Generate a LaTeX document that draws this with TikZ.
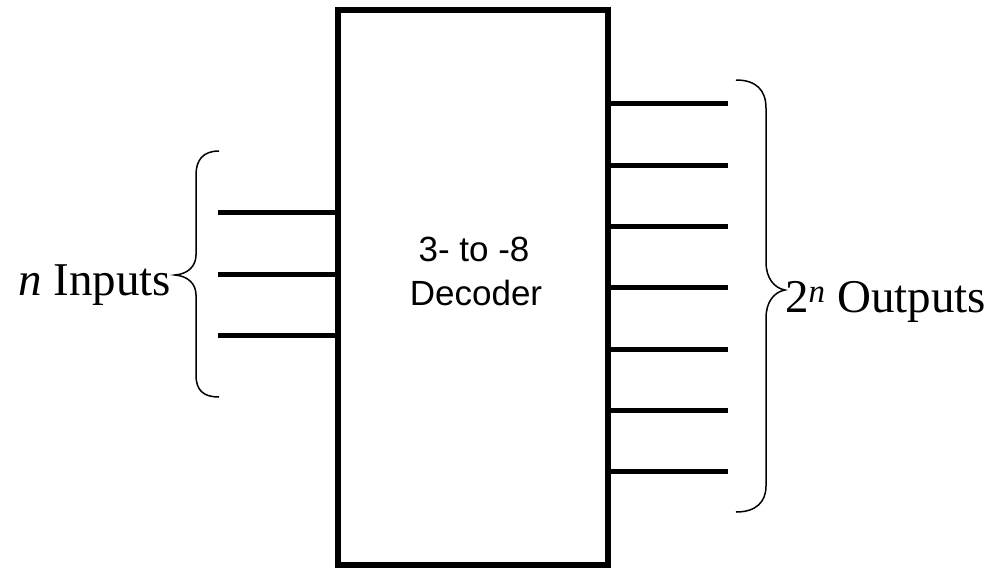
\documentclass[tikz,border=0pt]{standalone}
\usepackage{fontspec}
\setmainfont{Liberation Serif}
\newfontfamily\arialfont{Liberation Sans}
\begin{document}
\begin{tikzpicture}[x=1pt,y=-1pt,
  boxstyle/.style={draw,line width=6pt,minimum width=269.5pt,minimum height=555.5pt,inner sep=0pt},
  wire/.style={line width=5pt},
  bracestyle/.style={line width=1.5pt},
  lbl/.style={font=\fontsize{47}{50}\selectfont,inner sep=0pt,anchor=base west},
  boxtext/.style={font=\arialfont\fontsize{35}{40}\selectfont,inner sep=0pt,anchor=base}]
\useasboundingbox (0,0) rectangle (999,568);
\node[boxstyle] (dec) at (473,287.5) {};
\node[boxtext] (t1) at (474,261) {3- to -8};
\node[boxtext] (t2) at (476,305) {Decoder};
% inputs
\foreach \i/\y in {1/212.5,2/274,3/335}{
  \coordinate (in\i) at (218,\y);
  \draw[wire] (in\i) -- (in\i -| dec.west);
}
% outputs
\foreach \i/\y in {1/103.3,2/165,3/226,4/287.7,5/349.3,6/410.5,7/471.7}{
  \coordinate (out\i) at (728,\y);
  \draw[wire] (out\i -| dec.east) -- (out\i);
}
% left brace
\coordinate (lb1) at (219,151);
\coordinate (lbt) at (175,275);
\coordinate (lb2) at (219,397);
\draw[bracestyle] (lb1) .. controls (203,151) and (196,160) .. (196,175)
  -- (196,255) .. controls (196,266) and (188,274) .. (lbt)
  .. controls (188,276) and (196,284) .. (196,295)
  -- (196,375) .. controls (196,390) and (203,397) .. (lb2);
% right brace
\coordinate (rb1) at (736,80);
\coordinate (rbt) at (785,290);
\coordinate (rb2) at (736,512);
\draw[bracestyle] (rb1) .. controls (756,80) and (766,90) .. (766,108)
  -- (766,262) .. controls (766,278) and (774,288) .. (rbt)
  .. controls (774,292) and (766,302) .. (766,318)
  -- (766,486) .. controls (766,502) and (756,512) .. (rb2);
\node[lbl] (inl) at (18,295) {\textit{n} Inputs};
\node[lbl] (outl) at (785,312) {2\textsuperscript{\textit{n}} Outputs};
\end{tikzpicture}
\end{document}
